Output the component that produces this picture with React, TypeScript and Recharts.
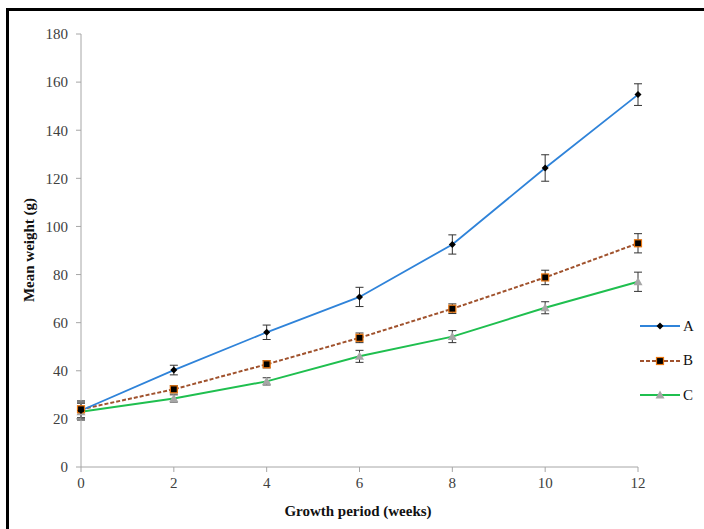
import React from 'react';
import { LineChart, Line, XAxis, YAxis, ErrorBar } from 'recharts';

const weeks = [0, 2, 4, 6, 8, 10, 12];
const seriesA = [23.5, 40.3, 56, 70.7, 92.5, 124.3, 154.8];
const errA = [3.5, 2, 3, 4, 4, 5.5, 4.5];
const seriesB = [24, 32.3, 42.7, 53.7, 65.8, 78.8, 93];
const errB = [3.5, 1.5, 1.5, 2, 2, 3, 4];
const seriesC = [23, 28.5, 35.6, 46, 54.2, 66.2, 77];
const errC = [3.5, 1.5, 1.5, 2.5, 2.5, 2.5, 4];
const xTicks = [0, 2, 4, 6, 8, 10, 12];
const yTicks = [0, 20, 40, 60, 80, 100, 120, 140, 160, 180];

const data = weeks.map((w, i) => ({
  week: w,
  A: seriesA[i],
  errA: errA[i],
  B: seriesB[i],
  errB: errB[i],
  C: seriesC[i],
  errC: errC[i],
}));

const FONT = '"Liberation Serif", "Times New Roman", serif';
const AXIS = '#a6a6a6';
const BLUE = '#2f83d9';
const BROWN = '#a0522d';
const ORANGE = '#e8750f';
const GREEN = '#1fbf4f';
const GREY = '#a6a6a6';

const Diamond = ({ cx, cy }: any) => (
  <path d={`M${cx},${cy - 3.5}L${cx + 3.5},${cy}L${cx},${cy + 3.5}L${cx - 3.5},${cy}Z`} fill="#000" />
);
const Square = ({ cx, cy }: any) => (
  <rect x={cx - 3.5} y={cy - 3.5} width={7} height={7} fill="#000" stroke={ORANGE} strokeWidth={1.2} />
);
const Triangle = ({ cx, cy }: any) => (
  <path d={`M${cx},${cy - 4.5}L${cx + 4.5},${cy + 3.5}L${cx - 4.5},${cy + 3.5}Z`} fill={GREY} />
);

const legendItems = [
  { name: 'A', color: BLUE, dash: undefined, Marker: Diamond },
  { name: 'B', color: BROWN, dash: '4 2', Marker: Square },
  { name: 'C', color: GREEN, dash: undefined, Marker: Triangle },
];

const tickStyle = { fontSize: 15, fill: '#404040', fontFamily: FONT };

const App: React.FC = () => {
  return (
    <div style={{ position: 'fixed', left: 0, top: 0, width: 704, height: 529, background: '#fff', overflow: 'hidden' }}>
      <div style={{ position: 'absolute', left: 6, top: 8, width: 740, height: 560, border: '3px solid #000', boxSizing: 'border-box' }} />
      <div style={{ position: 'absolute', left: 0, top: 0 }}>
        <LineChart width={704} height={529} data={data} margin={{ top: 34, right: 66, bottom: 32, left: 0 }}>
          <XAxis
            type="number"
            dataKey="week"
            domain={[0, 12]}
            ticks={xTicks}
            height={30}
            stroke={AXIS}
            tickSize={5}
            tickMargin={5}
            tick={tickStyle}
            label={{
              content: () => (
                <text x={358} y={516} textAnchor="middle" fontFamily={FONT} fontWeight="bold" fontSize={15} fill="#111">
                  Growth period (weeks)
                </text>
              ),
            }}
          />
          <YAxis
            type="number"
            domain={[0, 180]}
            ticks={yTicks}
            width={81}
            stroke={AXIS}
            tickSize={5}
            tickMargin={8}
            tick={tickStyle}
            label={{
              content: () => (
                <text x={34} y={250} transform="rotate(-90 34 250)" textAnchor="middle" fontFamily={FONT} fontWeight="bold" fontSize={15} fill="#111">
                  Mean weight (g)
                </text>
              ),
            }}
          />
          <Line dataKey="C" stroke={GREEN} strokeWidth={2} dot={<Triangle />} activeDot={false} isAnimationActive={false}>
            <ErrorBar dataKey="errC" direction="y" width={4} stroke="#333" strokeWidth={1} />
          </Line>
          <Line dataKey="B" stroke={BROWN} strokeWidth={2} strokeDasharray="4 2" dot={<Square />} activeDot={false} isAnimationActive={false}>
            <ErrorBar dataKey="errB" direction="y" width={4} stroke="#333" strokeWidth={1} />
          </Line>
          <Line dataKey="A" stroke={BLUE} strokeWidth={1.8} dot={<Diamond />} activeDot={false} isAnimationActive={false}>
            <ErrorBar dataKey="errA" direction="y" width={4} stroke="#333" strokeWidth={1} />
          </Line>
        </LineChart>
      </div>
      <div style={{ position: 'absolute', left: 640, top: 309, width: 64, fontFamily: FONT }}>
        {legendItems.map(({ name, color, dash, Marker }) => (
          <div key={name} style={{ display: 'flex', alignItems: 'center', height: 34.5 }}>
            <svg width={42} height={12}>
              <line x1={0} y1={6} x2={40} y2={6} stroke={color} strokeWidth={2} strokeDasharray={dash} />
              <Marker cx={20} cy={6} />
            </svg>
            <span style={{ fontSize: 15, color: '#111', marginLeft: 1 }}>{name}</span>
          </div>
        ))}
      </div>
    </div>
  );
};

export default App;
